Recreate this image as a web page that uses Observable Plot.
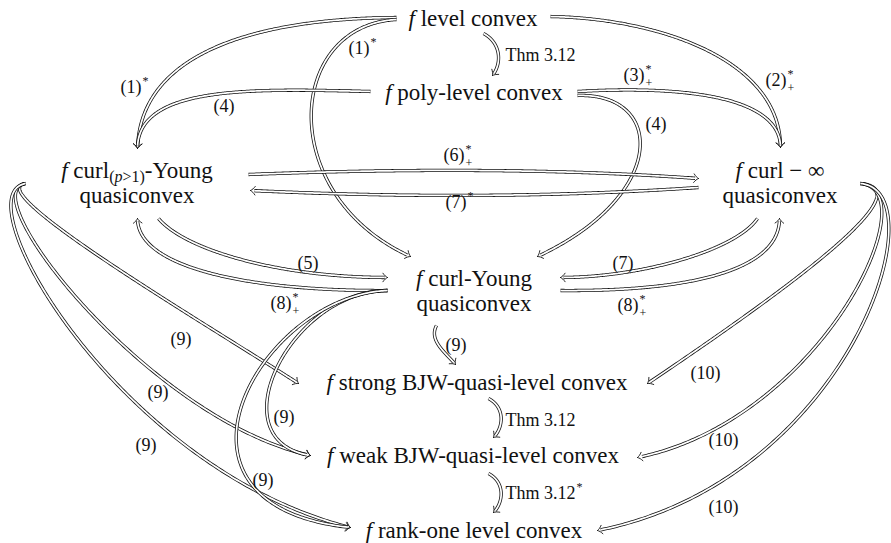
<!DOCTYPE html>
<html><head><meta charset="utf-8">
<script src="https://cdn.jsdelivr.net/npm/d3@7"></script>
<script src="https://cdn.jsdelivr.net/npm/@observablehq/plot@0.6"></script>
<style>html,body{margin:0;padding:0;background:#fff;}#chart svg{display:block}</style>
</head><body><div id="chart"></div>
<script>
// ---------------- data ----------------
const nodeIds = ["level","poly","curlP","curlInf","curlY","strong","weak","rank"];
// label runs: [text, style]  r = roman, i = italic, sr/si = subscript roman/italic
const nodeLines = {
  level:   [[["f","i"],[" level convex","r"]]],
  poly:    [[["f","i"],[" poly-level convex","r"]]],
  curlP:   [[["f","i"],[" curl","r"],["(","sr"],["p","si"],[">1)","sr"],["-Young","r"]],[["quasiconvex","r"]]],
  curlInf: [[["f","i"],[" curl − ∞","r"]],[["quasiconvex","r"]]],
  curlY:   [[["f","i"],[" curl-Young","r"]],[["quasiconvex","r"]]],
  strong:  [[["f","i"],[" strong BJW-quasi-level convex","r"]]],
  weak:    [[["f","i"],[" weak BJW-quasi-level convex","r"]]],
  rank:    [[["f","i"],[" rank-one level convex","r"]]]
};
// layout of the nodes (diagram coordinates)
const nodeCenterX = [472.5, 473.5, 136.5, 779.5, 473.5, 476.5, 472.5, 473.5];
const nodeLineY   = [[18],[92],[170,195],[170,195],[278,303],[382],[455],[530]];

// edges
const edgeFrom  = ["level","level","poly","level","poly","poly","curlP","curlInf","curlP","curlY","curlInf","curlY",
                   "curlY","curlP","curlP","curlP","curlY","curlY","curlInf","curlInf","curlInf","level","strong","weak"];
const edgeTo    = ["curlP","curlY","curlP","curlInf","curlInf","curlY","curlInf","curlP","curlY","curlP","curlY","curlInf",
                   "strong","strong","weak","rank","weak","rank","strong","weak","rank","poly","weak","rank"];
const edgeLabel = ["(1)^*","(1)^*","(4)","(2)^*_+","(3)^*_+","(4)","(6)^*_+","(7)^*","(5)","(8)^*_+","(7)","(8)^*_+",
                   "(9)","(9)","(9)","(9)","(9)","(9)","(10)","(10)","(10)","Thm 3.12","Thm 3.12","Thm 3.12^*"];
// edge geometry: start, two bezier handles, arrow tip
const edgeStart = [[396,17],[396,19],[370,91],[550,16],[577,91],[577,95],[248,174],[698,187],[158,218],[387,290],[757,218],[560,290],
                   [436,325],[25,183],[25,183],[25,183],[387,290],[387,290],[860,183],[860,183],[860,183],[483,33],[488,398],[488,473]];
const edgeOut   = [[260,18],[285,25],[250,88],[660,18],[680,85],[665,92],[400,168],[550,197],[185,250],[260,291],[735,250],[690,291],
                   [428,340],[-20,190],[-30,192],[-40,195],[290,290],[260,295],[915,188],[930,190],[940,190],[500,42],[505,407],[505,482]];
const edgeIn    = [[140,50],[275,195],[137,85],[780,60],[780,95],[668,195],[560,168],[400,197],[280,277],[137,270],[640,277],[779,270],
                   [445,352],[200,320],[150,420],[120,470],[215,440],[140,505],[830,260],[820,420],[850,480],[502,62],[503,427],[503,502]];
const edgeEnd   = [[137,148],[410,256],[137,148],[780,147],[780,147],[537,256],[698,178],[250,190],[387,277],[137,218],[560,277],[779,218],
                   [455,364],[298,383],[310,455],[350,527],[310,455],[350,527],[647,383],[637,457],[597,530],[492,75],[493,437],[493,512]];
// label anchors (left edge, middle)
const labelAt   = [[120,87],[348,48],[213,106],[765,80],[623,75],[645,124],[443,155],[445,202],[297,263],[270,303],[612,263],[617,305],
                   [445,345],[170,339],[147,392],[135,445],[273,417],[252,480],[690,373],[708,440],[708,507],[505,55],[505,420],[505,493]];

// ---------------- helpers ----------------
const FONT = "Liberation Serif";
const BIG = 23, SUB = 16, LAB = 18, SCR = 12;
const ctx = document.createElement("canvas").getContext("2d");
function measure(t, size, it) { ctx.font = `${it ? "italic " : ""}${size}px "${FONT}"`; return ctx.measureText(t).width; }

const texts = [];
function pushPiece(x, y, t, size, it) {
  const lead = measure(t, size, it) - measure(t.trimStart(), size, it);
  if (t.trim().length) texts.push({x: x + lead, y, text: t.trim(), size, it});
  return measure(t, size, it);
}
nodeIds.forEach((id, i) => {
  nodeLines[id].forEach((runs, j) => {
    const pieces = runs.map(([t, s]) => ({t, it: s.includes("i"), size: s.startsWith("s") ? SUB : BIG, dy: s.startsWith("s") ? 6 : 0}));
    const w = d3.sum(pieces, p => measure(p.t, p.size, p.it));
    let x = nodeCenterX[i] - w / 2;
    for (const p of pieces) x += pushPiece(x, nodeLineY[i][j] + p.dy, p.t, p.size, p.it);
  });
});
edgeLabel.forEach((s, i) => {
  const m = s.match(/^([^_^]*)(?:\^(.))?(?:_(.))?$/);
  const [x0, y0] = labelAt[i];
  const w = pushPiece(x0, y0, m[1], LAB, false);
  if (m[2]) pushPiece(x0 + w + 1, y0 - 6, m[2], SCR, false);
  if (m[3]) pushPiece(x0 + w + 1, y0 + 8, m[3], SCR, false);
});

function bez(p0, c1, c2, p1, t) {
  const u = 1 - t;
  return [0, 1].map(k => u*u*u*p0[k] + 3*u*u*t*c1[k] + 3*u*t*t*c2[k] + t*t*t*p1[k]);
}

const marks = [];
edgeFrom.forEach((f, i) => {
  const p0 = edgeStart[i], c1 = edgeOut[i], c2 = edgeIn[i], p1 = edgeEnd[i];
  const pts = [];
  const N = 240, cut = 2.4;
  for (let k = 0; k <= N; k++) {
    const p = bez(p0, c1, c2, p1, k / N);
    if (Math.hypot(p[0] - p1[0], p[1] - p1[1]) < cut) break;
    pts.push({x: p[0], y: p[1]});
  }
  marks.push(Plot.line(pts, {x: "x", y: "y", stroke: "#111", strokeWidth: 3.3, strokeLinecap: "butt", curve: "linear"}));
  marks.push(Plot.line(pts, {x: "x", y: "y", stroke: "white", strokeWidth: 1.75, strokeLinecap: "butt", curve: "linear"}));
  // arrow head (implies style)
  const q = bez(p0, c1, c2, p1, 0.985);
  let ux = p1[0] - q[0], uy = p1[1] - q[1];
  const L = Math.hypot(ux, uy); ux /= L; uy /= L;
  const nx = -uy, ny = ux;
  const arms = [];
  [1, -1].forEach((s, a) => {
    arms.push({x: p1[0], y: p1[1], a});
    arms.push({x: p1[0] - 2.4*ux + s*1.7*nx, y: p1[1] - 2.4*uy + s*1.7*ny, a});
    arms.push({x: p1[0] - 4.6*ux + s*4.3*nx, y: p1[1] - 4.6*uy + s*4.3*ny, a});
  });
  marks.push(Plot.line(arms, {x: "x", y: "y", z: "a", stroke: "#111", strokeWidth: 0.9, curve: "natural"}));
});

for (const [k, arr] of d3.groups(texts, d => d.size + "|" + d.it)) {
  marks.push(Plot.text(arr, {x: "x", y: "y", text: "text", textAnchor: "start", fontSize: arr[0].size,
    fontStyle: arr[0].it ? "italic" : "normal", fontFamily: FONT, fill: "#111"}));
}

const chart = Plot.plot({
  width: 891, height: 543, margin: 0,
  x: {domain: [0, 891], range: [0, 891], axis: null},
  y: {domain: [0, 543], range: [0, 543], axis: null},
  style: {background: "white"},
  marks
});
document.getElementById("chart").appendChild(chart);
</script>
</body></html>
